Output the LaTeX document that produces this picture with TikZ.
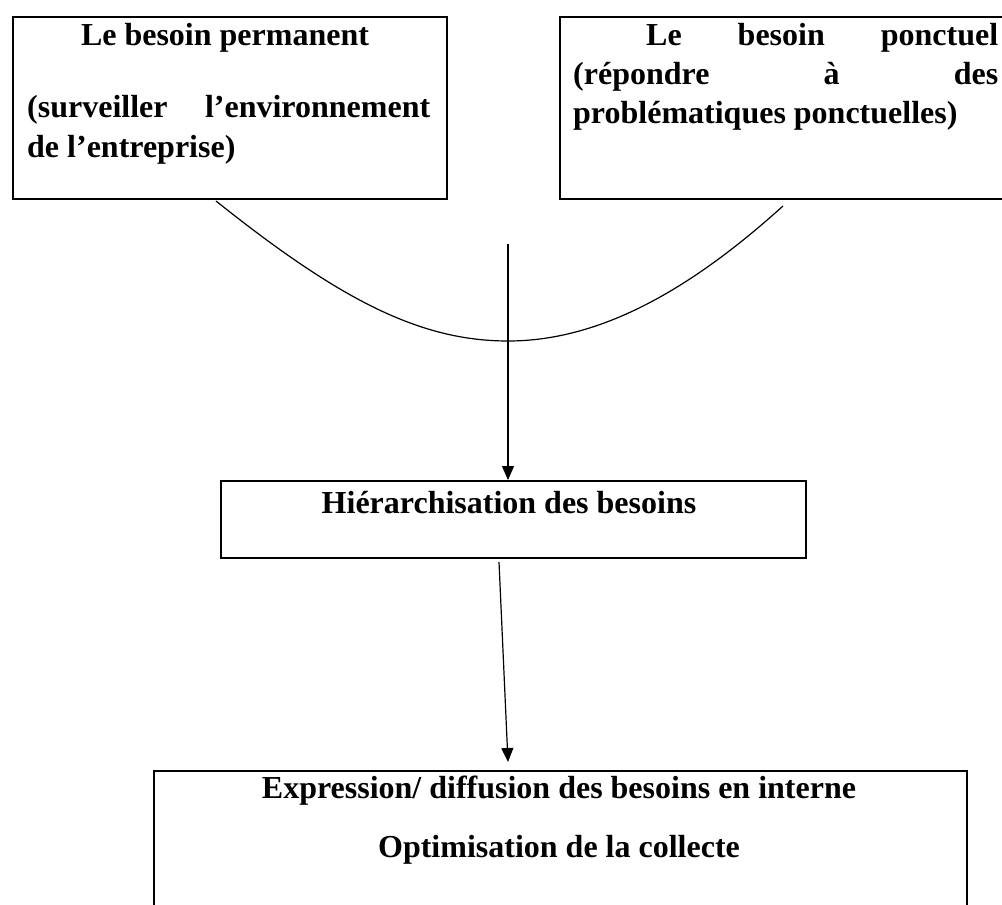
\documentclass[tikz,border=0pt]{standalone}
\usepackage{fontspec}
\setmainfont{Liberation Serif}
\usetikzlibrary{arrows.meta}
\begin{document}
\begin{tikzpicture}[x=1pt,y=-1pt,
  boxframe/.style={draw, line width=1.6pt, rectangle, inner sep=0pt, anchor=north west},
  txt/.style={inner sep=0pt, font=\fontsize{32}{39}\selectfont\bfseries},
  conn/.style={line width=1.2pt},
  arr/.style={conn, -{Triangle[length=14pt,width=12pt]}}]
\useasboundingbox (0,0) rectangle (1002,905);
% boxes
\node[boxframe, minimum width=434pt, minimum height=182pt] (b1) at (12,16) {};
\node[boxframe, minimum width=470pt, minimum height=182pt] (b2) at (559,16) {};
\node[boxframe, minimum width=585pt, minimum height=77pt] (b3) at (220,480) {};
\node[boxframe, minimum width=813pt, minimum height=160pt] (b4) at (153,770) {};
% texts
\node[txt, anchor=base] (t1a) at (225,45) {Le besoin permanent};
\node[txt, anchor=base west] (t1b) at (27,117) {\makebox[403pt][s]{(surveiller l’environnement}};
\node[txt, anchor=base west] (t1c) at (27,157) {de l’entreprise)};
\node[txt, anchor=base west] (t2a) at (646,45) {\makebox[352pt][s]{Le besoin ponctuel}};
\node[txt, anchor=base west] (t2b) at (573,84) {\makebox[425pt][s]{(répondre à des}};
\node[txt, anchor=base west] (t2c) at (573,123) {problématiques ponctuelles)};
\node[txt, anchor=base] (t3) at (509,513) {Hiérarchisation des besoins};
\node[txt, anchor=base] (t4a) at (559,798) {Expression/ diffusion des besoins en interne};
\node[txt, anchor=base] (t4b) at (559,857) {Optimisation de la collecte};
% curve joining the two needs
\coordinate (cL) at (216,201);
\coordinate (cM) at (508,341);
\coordinate (cR) at (783,206);
\draw[conn] (cL) .. controls (340,300) and (420,341) .. (cM)
            .. controls (600,341) and (690,290) .. (cR);
% arrows
\coordinate (a1) at (508,244);
\draw[arr] (a1) -- (a1 |- b3.north);
\coordinate (a2s) at (499,562);
\coordinate (a2e) at (508,762);
\draw[arr] (a2s) -- (a2e);
\end{tikzpicture}
\end{document}
